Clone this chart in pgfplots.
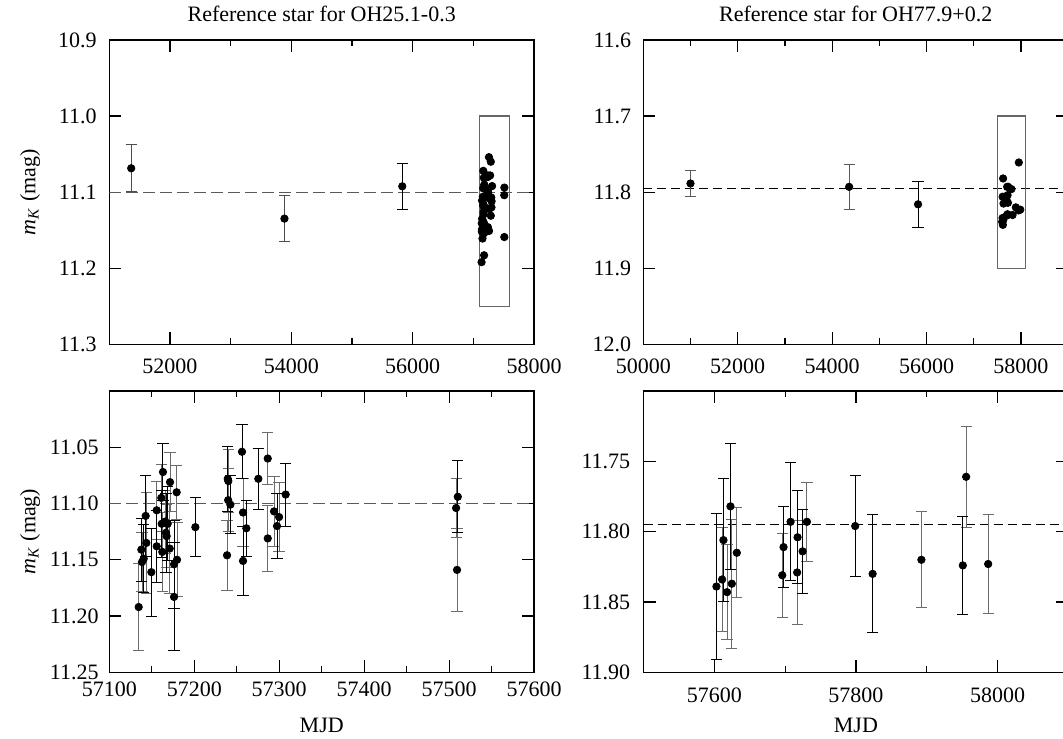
\documentclass[border=0pt]{standalone}
\usepackage{fontspec}
\setmainfont{Liberation Serif}
\usepackage{pgfplots}
\pgfplotsset{compat=1.18}
\usepackage{pgfplotstable}

\definecolor{eg}{gray}{0.42}

% OH25.1-0.3 reference star, 2015-2016 epochs, black error bars
\pgfplotstableread{
x y e
57137.7 11.141 0.028
57140.5 11.149 0.030
57142.8 11.111 0.036
57149.5 11.161 0.039
57155.8 11.138 0.032
57161.7 11.118 0.030
57163.2 11.072 0.025
57166.8 11.126 0.035
57168.7 11.118 0.033
57176.2 11.154 0.039
57176.2 11.183 0.048
57201.3 11.121 0.026
57239.4 11.078 0.029
57242.5 11.101 0.026
57256.2 11.054 0.024
57257.4 11.151 0.031
57261.3 11.122 0.025
57275.4 11.078 0.027
57297.4 11.120 0.029
57307.6 11.092 0.028
57510.2 11.094 0.032
}\BLb
% gray error bars
\pgfplotstableread{
x y e
57134.6 11.192 0.039
57138.5 11.152 0.026
57143.6 11.135 0.045
57155.8 11.106 0.026
57161.2 11.095 0.030
57162.4 11.143 0.035
57165.9 11.116 0.028
57167.5 11.129 0.028
57171.1 11.140 0.040
57171.5 11.081 0.026
57179.3 11.090 0.024
57179.7 11.150 0.033
57238.6 11.146 0.031
57240.1 11.080 0.028
57239.9 11.097 0.028
57257.4 11.108 0.030
57286.5 11.060 0.023
57286.5 11.131 0.029
57293.9 11.107 0.031
57299.8 11.112 0.031
57508.2 11.104 0.026
57509.3 11.159 0.037
}\BLg
% OH77.9+0.2 reference star, black error bars
\pgfplotstableread{
x y e
57603.0 11.839 0.052
57612.9 11.806 0.044
57622.8 11.782 0.045
57697.8 11.811 0.029
57707.7 11.793 0.042
57717.6 11.804 0.033
57724.7 11.814 0.030
57799.0 11.796 0.036
57823.6 11.830 0.042
57951.0 11.824 0.035
}\BRb
% gray error bars
\pgfplotstableread{
x y e
57611.0 11.834 0.037
57618.0 11.843 0.034
57624.7 11.837 0.046
57631.8 11.815 0.032
57696.0 11.831 0.030
57717.0 11.829 0.037
57730.8 11.793 0.028
57892.5 11.820 0.034
57955.7 11.761 0.036
57986.8 11.823 0.035
}\BRg

\pgfplotsset{
  base/.style={
    scale only axis, width=212.4pt,
    y dir=reverse,
    axis line style={line width=0.6pt},
    every tick/.style={black, line width=0.6pt},
    major tick length=6pt, minor tick length=3pt,
    tick align=inside,
    scaled x ticks=false, scaled y ticks=false,
    /pgf/number format/assume math mode=true,
    xticklabel style={/pgf/number format/1000 sep={}},
    tick label style={font=\fontsize{11}{13}\selectfont},
    label style={font=\fontsize{11}{13}\selectfont},
    title style={font=\fontsize{11}{13}\selectfont, at={(0.5,1)}, anchor=center, yshift=7pt},
    ylabel style={at={(axis description cs:0,0.5)}, anchor=center, yshift=39.6pt},
    xlabel style={at={(axis description cs:0.5,0)}, anchor=center, yshift=-26.4pt},
  },
  yfmt/.style={yticklabel style={/pgf/number format/fixed, /pgf/number format/fixed zerofill, /pgf/number format/precision=#1}},
  pts/.style={only marks, mark=*, mark size=1.85pt, black, mark options={fill=black}},
  eb/.style={only marks, mark=*, mark size=1.85pt, black, mark options={fill=black, draw=black},
    /pgfplots/error bars/y dir=both, /pgfplots/error bars/y explicit,
    /pgfplots/error bars/error bar style={#1, line width=0.5pt},
    /pgfplots/error bars/error mark options={#1, rotate=90, mark size=2.8pt, line width=0.5pt}},
  boxl/.style={black!60, line width=0.6pt},
}

\begin{document}
\begin{tikzpicture}
% ---------- top left ----------
\begin{axis}[base, at={(54.65pt,-20pt)}, anchor=north west, height=152.15pt,
  xmin=51000, xmax=58000, ymin=10.9, ymax=11.3,
  xtick={52000,54000,56000,58000}, minor xtick={51000,53000,55000,57000},
  ytick={10.9,11.0,11.1,11.2,11.3},
  yfmt=1,
  xticklabel style={yshift=-3.8pt}, yticklabel style={xshift=-2.8pt},
  title={Reference star for OH25.1-0.3},
  ylabel={\textit{m}\textsubscript{\textit{K}} (mag)}]
\addplot[black!65, line width=0.5pt, dash pattern=on 6pt off 2.5pt] coordinates {(51000,11.1) (58000,11.1)};
\addplot[boxl] coordinates {(57100,11.0) (57600,11.0) (57600,11.25) (57100,11.25) (57100,11.0)};
\addplot[eb=black!70] table[x=x, y=y, y error=e] {
x y e
51361 11.0686 0.031
53886 11.1348 0.030
};
\addplot[eb=black] table[x=x, y=y, y error=e] {
x y e
55828 11.0923 0.030
};
\addplot[pts] table[x=x, y=y] {\BLg};
\addplot[pts] table[x=x, y=y] {\BLb};
\end{axis}
% ---------- top right ----------
\begin{axis}[base, at={(321.65pt,-20pt)}, anchor=north west, height=152.15pt,
  xmin=50000, xmax=59000, ymin=11.6, ymax=12.0,
  xtick={50000,52000,54000,56000,58000}, minor xtick={51000,53000,55000,57000,59000},
  ytick={11.6,11.7,11.8,11.9,12.0},
  yfmt=1,
  xticklabel style={yshift=-3.8pt}, yticklabel style={xshift=-2.5pt},
  title={Reference star for OH77.9+0.2}]
\addplot[black, line width=0.5pt, dash pattern=on 4.5pt off 2.5pt] coordinates {(50000,11.795) (59000,11.795)};
\addplot[boxl] coordinates {(57500,11.7) (58100,11.7) (58100,11.9) (57500,11.9) (57500,11.7)};
\addplot[eb=black!65] table[x=x, y=y, y error=e] {
x y e
51000 11.7886 0.017
54361 11.7930 0.030
};
\addplot[eb=black] table[x=x, y=y, y error=e] {
x y e
55821 11.8160 0.030
};
\addplot[pts] table[x=x, y=y] {\BRg};
\addplot[pts] table[x=x, y=y] {\BRb};
\end{axis}
% ---------- bottom left ----------
\begin{axis}[base, at={(54.65pt,-195.5pt)}, anchor=north west, height=140.65pt,
  xmin=57100, xmax=57600, ymin=11.0, ymax=11.25,
  xtick={57100,57200,57300,57400,57500,57600}, minor xtick={57150,57250,57350,57450,57550},
  ytick={11.05,11.10,11.15,11.20,11.25},
  yfmt=2,
  xticklabel style={yshift=-1pt}, yticklabel style={xshift=-1.8pt},
  xlabel={MJD},
  ylabel={\textit{m}\textsubscript{\textit{K}} (mag)}]
\addplot[black!65, line width=0.5pt, dash pattern=on 6pt off 2.5pt] coordinates {(57100,11.1) (57600,11.1)};
\addplot[eb=eg] table[x=x, y=y, y error=e] {\BLg};
\addplot[eb=black] table[x=x, y=y, y error=e] {\BLb};
\end{axis}
% ---------- bottom right ----------
\begin{axis}[base, at={(321.75pt,-195.5pt)}, anchor=north west, height=140.65pt,
  xmin=57500, xmax=58100, ymin=11.7, ymax=11.9,
  xtick={57600,57800,58000}, minor xtick={57500,57700,57900,58100},
  ytick={11.75,11.80,11.85,11.90},
  yfmt=2,
  xticklabel style={yshift=-4.3pt}, yticklabel style={xshift=-3.1pt},
  xlabel={MJD}]
\addplot[black, line width=0.5pt, dash pattern=on 4.5pt off 2.5pt] coordinates {(57500,11.795) (58100,11.795)};
\addplot[eb=eg] table[x=x, y=y, y error=e] {\BRg};
\addplot[eb=black] table[x=x, y=y, y error=e] {\BRb};
\end{axis}
\pgfresetboundingbox
\path[use as bounding box] (0pt,0pt) rectangle (531.5pt,-369pt);
\end{tikzpicture}
\end{document}
